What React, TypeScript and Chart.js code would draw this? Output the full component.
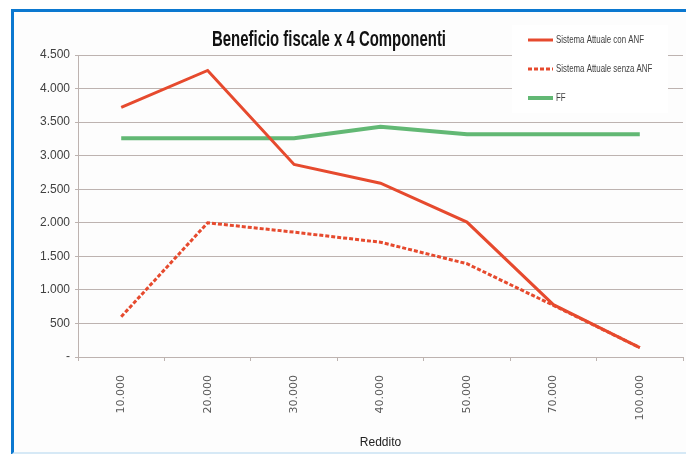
import React, { useEffect, useRef } from "react";
import { Chart, registerables } from "chart.js";

Chart.register(...registerables);

const categories = ["10.000", "20.000", "30.000", "40.000", "50.000", "70.000", "100.000"];
const seriesConANF = [3720, 4270, 2870, 2590, 2010, 780, 140];
const seriesSenzaANF = [600, 2000, 1860, 1710, 1390, 770, 140];
const seriesFF = [3260, 3260, 3260, 3430, 3320, 3320, 3320];
const seriesNames = ["Sistema Attuale con ANF", "Sistema Attuale senza ANF", "FF"];
const titleText = "Beneficio fiscale x 4 Componenti";
const xTitle = "Reddito";
const yMax = 4500;
const yStep = 500;

const RED = "#e64a2e";
const GREEN = "#62b874";
const GRID = "#bdb3b0";
const NARROW = '"Liberation Sans Narrow", "Arial Narrow", "Liberation Sans", sans-serif';

function fmt(v: number): string {
  if (v === 0) return "-";
  return String(Math.round(v)).replace(/\B(?=(\d{3})+(?!\d))/g, ".");
}

const titlePlugin = {
  id: "titleOverlay",
  afterDraw(chart: any) {
    const ctx = chart.ctx;
    ctx.save();
    ctx.font = `bold 22px ${NARROW}`;
    const w = ctx.measureText(titleText).width;
    const target = 234;
    const sx = target / w;
    ctx.translate(329, 46);
    ctx.scale(sx, 1);
    ctx.fillStyle = "#111111";
    ctx.textAlign = "center";
    ctx.textBaseline = "alphabetic";
    ctx.fillText(titleText, 0, 0);
    ctx.restore();
  },
};

const legendPlugin = {
  id: "legendOverlay",
  afterDatasetsDraw(chart: any) {
    const ctx = chart.ctx;
    ctx.save();
    ctx.fillStyle = "#ffffff";
    ctx.fillRect(512, 25, 156, 88);
    ctx.font = `11px ${NARROW}`;
    const refW = ctx.measureText(chart.data.datasets[0].label).width;
    const sx = 88 / refW;
    const ys = [40, 69, 98];
    chart.data.datasets.forEach((ds: any, i: number) => {
      const y = ys[i];
      ctx.beginPath();
      ctx.strokeStyle = ds.borderColor;
      ctx.lineWidth = ds.borderWidth;
      ctx.setLineDash(ds.borderDash || []);
      ctx.moveTo(528, y);
      ctx.lineTo(553, y);
      ctx.stroke();
      ctx.setLineDash([]);
      ctx.save();
      ctx.translate(556, y);
      ctx.scale(sx, 1);
      ctx.fillStyle = "#404040";
      ctx.font = `11px ${NARROW}`;
      ctx.textAlign = "left";
      ctx.textBaseline = "middle";
      ctx.fillText(ds.label, 0, 0);
      ctx.restore();
    });
    ctx.restore();
  },
};

export default function App() {
  const ref = useRef<HTMLCanvasElement | null>(null);

  useEffect(() => {
    if (!ref.current) return;
    const chart = new Chart(ref.current, {
      type: "line",
      data: {
        labels: categories,
        datasets: [
          {
            label: seriesNames[0],
            data: seriesConANF,
            borderColor: RED,
            backgroundColor: RED,
            borderWidth: 3,
            pointRadius: 0,
            tension: 0,
          },
          {
            label: seriesNames[1],
            data: seriesSenzaANF,
            borderColor: RED,
            backgroundColor: RED,
            borderWidth: 3,
            borderDash: [4, 2],
            pointRadius: 0,
            tension: 0,
          },
          {
            label: seriesNames[2],
            data: seriesFF,
            borderColor: GREEN,
            backgroundColor: GREEN,
            borderWidth: 4,
            pointRadius: 0,
            tension: 0,
          },
        ],
      },
      options: {
        responsive: false,
        animation: false,
        devicePixelRatio: 1,
        layout: { padding: { top: 55, right: 3, left: 0, bottom: 0 } },
        plugins: {
          legend: { display: false },
          title: { display: false },
          tooltip: { enabled: false },
        },
        scales: {
          x: {
            type: "category",
            offset: true,
            afterFit(scale: any) {
              scale.height = 97;
            },
            grid: {
              offset: true,
              drawOnChartArea: false,
              drawTicks: true,
              tickLength: 4,
              color: GRID,
            },
            border: { color: GRID, width: 1 },
            ticks: {
              minRotation: 90,
              maxRotation: 90,
              autoSkip: false,
              padding: 14,
              color: "#5a5a5a",
              font: { family: '"DejaVu Sans", sans-serif', size: 11 },
            },
            title: {
              display: true,
              text: xTitle,
              color: "#222222",
              font: { family: NARROW, size: 12 },
              padding: { top: 0, bottom: 4 },
            },
          },
          y: {
            min: 0,
            max: yMax,
            afterFit(scale: any) {
              scale.width = 78;
            },
            grid: {
              color: GRID,
              lineWidth: 1,
              drawTicks: true,
              tickLength: 3,
            },
            border: { color: GRID, width: 1 },
            ticks: {
              stepSize: yStep,
              padding: 5,
              color: "#404040",
              font: { family: NARROW, size: 12 },
              callback: (v: any) => fmt(Number(v)),
            },
          },
        },
      },
      plugins: [legendPlugin, titlePlugin],
    });
    return () => chart.destroy();
  }, []);

  return (
    <div style={{ position: "fixed", left: 0, top: 0, width: 686, height: 454, background: "#ffffff", overflow: "hidden" }}>
      <div
        style={{
          position: "absolute",
          left: 11,
          top: 9,
          width: 690,
          height: 440,
          borderLeft: "3px solid #0b78d0",
          borderTop: "3px solid #0b78d0",
          borderBottom: "3px solid #d6e9f6",
          background: "#fdfdfd",
        }}
      />
      <canvas ref={ref} width={686} height={454} style={{ position: "absolute", left: 0, top: 0, width: 686, height: 454 }} />
    </div>
  );
}
